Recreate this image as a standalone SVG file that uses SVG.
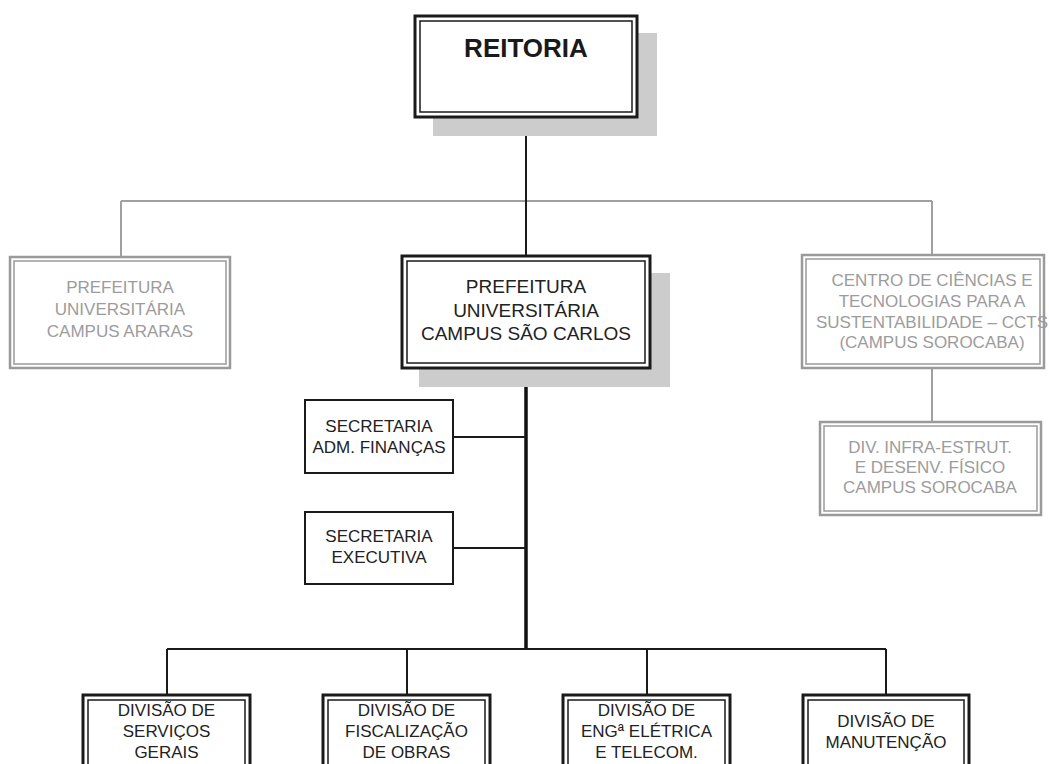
<svg xmlns="http://www.w3.org/2000/svg" width="1049" height="764" viewBox="0 0 1049 764">
<style>
.bg{fill:#ffffff}
.shadow{fill:#cccccc;stroke:none}
.bo{fill:#ffffff;stroke:#1a1a1a;stroke-width:3}
.bi{fill:none;stroke:#1a1a1a;stroke-width:1.5}
.go{fill:#ffffff;stroke:#9a9a9a;stroke-width:2.5}
.gi{fill:none;stroke:#9a9a9a;stroke-width:1.5}
.single{fill:#ffffff;stroke:#1a1a1a;stroke-width:2}
.t{font-family:"Liberation Sans",Arial,sans-serif;font-size:17px;fill:#222222;text-anchor:middle}
.tb{font-family:"Liberation Sans",Arial,sans-serif;font-size:19px;fill:#222222;text-anchor:middle}
.tg{font-family:"Liberation Sans",Arial,sans-serif;font-size:17px;fill:#9c9c9c;text-anchor:middle}
.title{font-family:"Liberation Sans",Arial,sans-serif;font-size:26px;font-weight:bold;fill:#1a1a1a;text-anchor:middle}
.cb{stroke:#1a1a1a;stroke-width:2;fill:none}
.cthick{stroke:#111111;stroke-width:3.5;fill:none}
.cg{stroke:#a0a0a0;stroke-width:2;fill:none}
</style>
<rect class="bg" x="0" y="0" width="1049" height="764"/>
<g id="connectors">
<path class="cg" d="M121 201 H932 M121 201 V257 M932 201 V255 M932 368 V422"/>
<path class="cb" d="M526 117 V256"/>
<path class="cthick" d="M526 368 V650"/>
<path class="cb" d="M453 437 H526 M453 548 H526"/>
<path class="cb" d="M167 649 H886 M167 649 V695 M407 649 V695 M647 649 V695 M886 649 V695"/>
</g>
<g id="reitoria">
<rect class="shadow" x="433" y="33" width="224" height="103"/>
<rect class="bo" x="415" y="16" width="222" height="101"/>
<rect class="bi" x="420" y="21" width="212" height="91"/>
<text class="title" x="526" y="57">REITORIA</text>
</g>
<g id="araras">
<rect class="go" x="10" y="257" width="220" height="111"/>
<rect class="gi" x="14" y="261" width="212" height="103"/>
<text class="tg" x="120" y="293">PREFEITURA</text>
<text class="tg" x="120" y="315">UNIVERSITÁRIA</text>
<text class="tg" x="120" y="337">CAMPUS ARARAS</text>
</g>
<g id="saocarlos">
<rect class="shadow" x="419" y="273" width="251" height="114"/>
<rect class="bo" x="402" y="256" width="248" height="112"/>
<rect class="bi" x="407" y="261" width="238" height="102"/>
<text class="tb" x="526" y="293">PREFEITURA</text>
<text class="tb" x="526" y="317">UNIVERSITÁRIA</text>
<text class="tb" x="526" y="340">CAMPUS SÃO CARLOS</text>
</g>
<g id="ccts">
<rect class="go" x="802" y="255" width="242" height="113"/>
<rect class="gi" x="806" y="259" width="234" height="105"/>
<text class="tg" x="932" y="286">CENTRO DE CIÊNCIAS E</text>
<text class="tg" x="932" y="307">TECNOLOGIAS PARA A</text>
<text class="tg" x="932" y="328">SUSTENTABILIDADE – CCTS</text>
<text class="tg" x="932" y="348">(CAMPUS SOROCABA)</text>
</g>
<g id="infra">
<rect class="go" x="820" y="422" width="221" height="93"/>
<rect class="gi" x="824" y="426" width="213" height="85"/>
<text class="tg" x="930" y="453">DIV. INFRA-ESTRUT.</text>
<text class="tg" x="930" y="473">E DESENV. FÍSICO</text>
<text class="tg" x="930" y="493">CAMPUS SOROCABA</text>
</g>
<g id="sec-adm">
<rect class="single" x="305" y="400" width="148" height="73"/>
<text class="t" x="379" y="432">SECRETARIA</text>
<text class="t" x="379" y="453">ADM. FINANÇAS</text>
</g>
<g id="sec-exec">
<rect class="single" x="305" y="512" width="148" height="72"/>
<text class="t" x="379" y="542">SECRETARIA</text>
<text class="t" x="379" y="563">EXECUTIVA</text>
</g>
<g id="div-servicos">
<rect class="bo" x="83" y="695" width="167" height="100"/>
<rect class="bi" x="88" y="700" width="157" height="90"/>
<text class="t" x="166.5" y="716">DIVISÃO DE</text>
<text class="t" x="166.5" y="737">SERVIÇOS</text>
<text class="t" x="166.5" y="758">GERAIS</text>
</g>
<g id="div-fiscalizacao">
<rect class="bo" x="323" y="695" width="167" height="100"/>
<rect class="bi" x="328" y="700" width="157" height="90"/>
<text class="t" x="406.5" y="716">DIVISÃO DE</text>
<text class="t" x="406.5" y="737">FISCALIZAÇÃO</text>
<text class="t" x="406.5" y="758">DE OBRAS</text>
</g>
<g id="div-eletrica">
<rect class="bo" x="563" y="695" width="167" height="100"/>
<rect class="bi" x="568" y="700" width="157" height="90"/>
<text class="t" x="646.5" y="716">DIVISÃO DE</text>
<text class="t" x="646.5" y="737">ENGª ELÉTRICA</text>
<text class="t" x="646.5" y="758">E TELECOM.</text>
</g>
<g id="div-manutencao">
<rect class="bo" x="803" y="695" width="166" height="100"/>
<rect class="bi" x="808" y="700" width="156" height="90"/>
<text class="t" x="886" y="727">DIVISÃO DE</text>
<text class="t" x="886" y="748">MANUTENÇÃO</text>
</g>
</svg>
